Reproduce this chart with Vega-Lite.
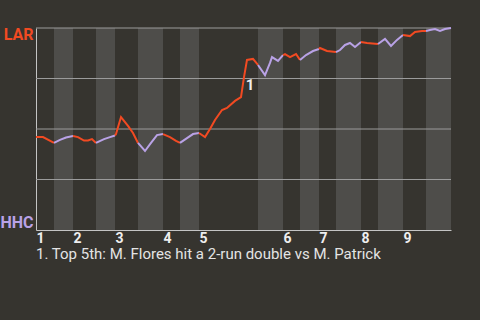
{
  "$schema": "https://vega.github.io/schema/vega-lite/v6.json",
  "width": 415,
  "height": 202,
  "autosize": {"type": "none"},
  "padding": {"left": 36, "top": 28, "right": 29, "bottom": 90},
  "background": "#36342f",
  "config": {
    "view": {"stroke": null, "fill": "#36342f"},
    "font": "Roboto"
  },
  "title": {
    "text": "1. Top 5th: M. Flores hit a 2-run double vs M. Patrick",
    "orient": "bottom",
    "anchor": "start",
    "frame": "group",
    "font": "Roboto",
    "fontSize": 15,
    "fontWeight": "normal",
    "color": "#e4e4e4",
    "offset": 2
  },
  "datasets": {
    "bands": [
      {"start": 18, "end": 37}, {"start": 60, "end": 79}, {"start": 102, "end": 127},
      {"start": 144, "end": 163}, {"start": 222, "end": 247}, {"start": 264, "end": 283},
      {"start": 300, "end": 325}, {"start": 342, "end": 367}, {"start": 390, "end": 415}
    ],
    "grid": [{"p": 0.25}, {"p": 0.5}, {"p": 0.75}, {"p": 1}],
    "plays": [
      {"half": 1, "team": "LAR", "t": 0, "p": 0.46}, {"half": 1, "team": "LAR", "t": 7, "p": 0.46}, {"half": 1, "team": "LAR", "t": 18, "p": 0.431},
      {"half": 2, "team": "HHC", "t": 18, "p": 0.431}, {"half": 2, "team": "HHC", "t": 24, "p": 0.446}, {"half": 2, "team": "HHC", "t": 30, "p": 0.458}, {"half": 2, "team": "HHC", "t": 37, "p": 0.465},
      {"half": 3, "team": "LAR", "t": 37, "p": 0.465}, {"half": 3, "team": "LAR", "t": 42, "p": 0.46}, {"half": 3, "team": "LAR", "t": 48, "p": 0.443}, {"half": 3, "team": "LAR", "t": 52, "p": 0.443}, {"half": 3, "team": "LAR", "t": 56, "p": 0.45}, {"half": 3, "team": "LAR", "t": 60, "p": 0.431},
      {"half": 4, "team": "HHC", "t": 60, "p": 0.431}, {"half": 4, "team": "HHC", "t": 68, "p": 0.45}, {"half": 4, "team": "HHC", "t": 74, "p": 0.46}, {"half": 4, "team": "HHC", "t": 79, "p": 0.468},
      {"half": 5, "team": "LAR", "t": 79, "p": 0.468}, {"half": 5, "team": "LAR", "t": 80, "p": 0.475}, {"half": 5, "team": "LAR", "t": 85, "p": 0.559}, {"half": 5, "team": "LAR", "t": 92, "p": 0.515}, {"half": 5, "team": "LAR", "t": 97, "p": 0.48}, {"half": 5, "team": "LAR", "t": 102, "p": 0.431},
      {"half": 6, "team": "HHC", "t": 102, "p": 0.431}, {"half": 6, "team": "HHC", "t": 109, "p": 0.391}, {"half": 6, "team": "HHC", "t": 115, "p": 0.431}, {"half": 6, "team": "HHC", "t": 121, "p": 0.47}, {"half": 6, "team": "HHC", "t": 127, "p": 0.475},
      {"half": 7, "team": "LAR", "t": 127, "p": 0.475}, {"half": 7, "team": "LAR", "t": 134, "p": 0.46}, {"half": 7, "team": "LAR", "t": 140, "p": 0.441}, {"half": 7, "team": "LAR", "t": 144, "p": 0.431},
      {"half": 8, "team": "HHC", "t": 144, "p": 0.431}, {"half": 8, "team": "HHC", "t": 151, "p": 0.455}, {"half": 8, "team": "HHC", "t": 157, "p": 0.475}, {"half": 8, "team": "HHC", "t": 163, "p": 0.48},
      {"half": 9, "team": "LAR", "t": 163, "p": 0.48}, {"half": 9, "team": "LAR", "t": 169, "p": 0.46}, {"half": 9, "team": "LAR", "t": 174, "p": 0.5}, {"half": 9, "team": "LAR", "t": 179, "p": 0.545}, {"half": 9, "team": "LAR", "t": 186, "p": 0.594}, {"half": 9, "team": "LAR", "t": 191, "p": 0.604}, {"half": 9, "team": "LAR", "t": 199, "p": 0.639}, {"half": 9, "team": "LAR", "t": 205, "p": 0.658}, {"half": 9, "team": "LAR", "t": 208, "p": 0.757}, {"half": 9, "team": "LAR", "t": 211, "p": 0.842}, {"half": 9, "team": "LAR", "t": 217, "p": 0.847}, {"half": 9, "team": "LAR", "t": 222, "p": 0.817},
      {"half": 10, "team": "HHC", "t": 222, "p": 0.817}, {"half": 10, "team": "HHC", "t": 229, "p": 0.767}, {"half": 10, "team": "HHC", "t": 234, "p": 0.827}, {"half": 10, "team": "HHC", "t": 236, "p": 0.856}, {"half": 10, "team": "HHC", "t": 242, "p": 0.837}, {"half": 10, "team": "HHC", "t": 247, "p": 0.866},
      {"half": 11, "team": "LAR", "t": 247, "p": 0.866}, {"half": 11, "team": "LAR", "t": 249, "p": 0.871}, {"half": 11, "team": "LAR", "t": 254, "p": 0.856}, {"half": 11, "team": "LAR", "t": 260, "p": 0.871}, {"half": 11, "team": "LAR", "t": 264, "p": 0.842},
      {"half": 12, "team": "HHC", "t": 264, "p": 0.842}, {"half": 12, "team": "HHC", "t": 270, "p": 0.866}, {"half": 12, "team": "HHC", "t": 277, "p": 0.886}, {"half": 12, "team": "HHC", "t": 283, "p": 0.896},
      {"half": 13, "team": "LAR", "t": 283, "p": 0.896}, {"half": 13, "team": "LAR", "t": 284, "p": 0.901}, {"half": 13, "team": "LAR", "t": 291, "p": 0.886}, {"half": 13, "team": "LAR", "t": 300, "p": 0.881},
      {"half": 14, "team": "HHC", "t": 300, "p": 0.881}, {"half": 14, "team": "HHC", "t": 304, "p": 0.891}, {"half": 14, "team": "HHC", "t": 309, "p": 0.916}, {"half": 14, "team": "HHC", "t": 314, "p": 0.926}, {"half": 14, "team": "HHC", "t": 319, "p": 0.906}, {"half": 14, "team": "HHC", "t": 325, "p": 0.931},
      {"half": 15, "team": "LAR", "t": 325, "p": 0.931}, {"half": 15, "team": "LAR", "t": 331, "p": 0.926}, {"half": 15, "team": "LAR", "t": 342, "p": 0.921},
      {"half": 16, "team": "HHC", "t": 342, "p": 0.921}, {"half": 16, "team": "HHC", "t": 349, "p": 0.946}, {"half": 16, "team": "HHC", "t": 355, "p": 0.911}, {"half": 16, "team": "HHC", "t": 361, "p": 0.941}, {"half": 16, "team": "HHC", "t": 367, "p": 0.965},
      {"half": 17, "team": "LAR", "t": 367, "p": 0.965}, {"half": 17, "team": "LAR", "t": 374, "p": 0.96}, {"half": 17, "team": "LAR", "t": 379, "p": 0.98}, {"half": 17, "team": "LAR", "t": 386, "p": 0.985}, {"half": 17, "team": "LAR", "t": 390, "p": 0.985},
      {"half": 18, "team": "HHC", "t": 390, "p": 0.985}, {"half": 18, "team": "HHC", "t": 394, "p": 0.99}, {"half": 18, "team": "HHC", "t": 399, "p": 0.995}, {"half": 18, "team": "HHC", "t": 404, "p": 0.985}, {"half": 18, "team": "HHC", "t": 409, "p": 0.995}, {"half": 18, "team": "HHC", "t": 415, "p": 1.0}
    ],
    "notes": [{"t": 211, "p": 0.842, "label": "1"}]
  },
  "layer": [
    {
      "data": {"name": "bands"},
      "mark": {"type": "rect", "color": "#4e4d4a"},
      "encoding": {
        "x": {
          "field": "start", "type": "quantitative",
          "scale": {"domain": [0, 415], "nice": false, "zero": false},
          "axis": {
            "title": null,
            "values": [0, 37, 79, 127, 163, 247, 283, 325, 367],
            "labelExpr": "'' + (indexof([0, 37, 79, 127, 163, 247, 283, 325, 367], datum.value) + 1)",
            "ticks": false,
            "grid": false,
            "domain": true,
            "domainColor": "#c4c4c4",
            "domainWidth": 1,
            "labelAlign": "left",
            "labelFont": "Roboto",
            "labelFontSize": 14,
            "labelFontWeight": "bold",
            "labelColor": "#eeeeee",
            "labelPadding": 1,
            "labelFlush": false,
            "labelOverlap": false
          }
        },
        "x2": {"field": "end"}
      }
    },
    {
      "data": {"name": "grid"},
      "mark": {"type": "rule", "color": "#9b9b9b", "strokeWidth": 1},
      "encoding": {
        "y": {
          "field": "p", "type": "quantitative",
          "scale": {"domain": [0, 1], "nice": false, "zero": false},
          "axis": {
            "title": null,
            "values": [0, 1],
            "labelExpr": "datum.value == 1 ? 'LAR' : 'HHC'",
            "ticks": false,
            "grid": false,
            "domain": true,
            "domainColor": "#c4c4c4",
            "domainWidth": 1,
            "labelFont": "Roboto",
            "labelFontSize": 16,
            "labelFontWeight": "bold",
            "labelPadding": 3,
            "labelColor": {"condition": {"test": "datum.value == 1", "value": "#f24a22"}, "value": "#b9a2e6"},
            "labelBaseline": {"condition": {"test": "datum.value == 1", "value": "top"}, "value": "bottom"},
            "labelOffset": {"condition": {"test": "datum.value == 1", "value": -2}, "value": 0},
            "labelFlush": false,
            "labelOverlap": false
          }
        }
      }
    },
    {
      "data": {"name": "plays"},
      "mark": {"type": "line", "strokeWidth": 2, "clip": false},
      "encoding": {
        "x": {"field": "t", "type": "quantitative", "title": null},
        "y": {"field": "p", "type": "quantitative", "title": null},
        "color": {
          "field": "team", "type": "nominal",
          "scale": {"domain": ["LAR", "HHC"], "range": ["#f24a22", "#b9a2e6"]},
          "legend": null
        },
        "detail": {"field": "half", "type": "nominal"}
      }
    },
    {
      "data": {"name": "notes"},
      "mark": {"type": "text", "font": "Roboto", "fontSize": 15, "fontWeight": "bold", "color": "#eeeeee", "dx": 3, "dy": 25},
      "encoding": {
        "x": {"field": "t", "type": "quantitative", "title": null},
        "y": {"field": "p", "type": "quantitative", "title": null},
        "text": {"field": "label"}
      }
    }
  ]
}
